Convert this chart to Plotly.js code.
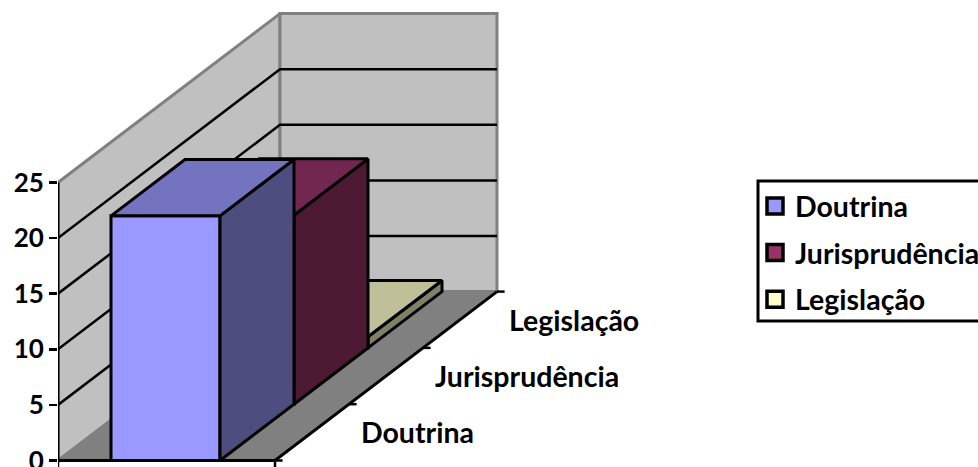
<!DOCTYPE html>
<html><head><meta charset="utf-8">
<script src="https://cdn.plot.ly/plotly-3.0.1.min.js"></script>
<style>html,body{margin:0;padding:0;background:#fff;overflow:hidden}</style>
</head><body><div id="chart" style="width:978px;height:467px"></div>
<script>
const categories = ['Doutrina','Jurisprudência','Legislação'];
const seriesNames = ['Doutrina','Jurisprudência','Legislação'];
const seriesValues = [22,17,1];
const yTicks = [0,5,10,15,20,25];
const frontColors = ['#9999FF','#993366','#FFFFCC'];
const sideColors = ['#4D4D80','#4D1933','#808066'];
const topColors = ['#7373BF','#732650','#BFBF99'];

// oblique projection of (width position, depth in categories, value) to axis units
const W = 217, DX = 74, DY = 56.3/11.12, YMAX = 25;
const P = (u,d,v) => [u*W + d*DX, v + d*DY];
function poly(pts, fill, lineColor, lw){
  const c = pts.map(p=>P(p[0],p[1],p[2]));
  if (fill) c.push(c[0]);
  return {type:'scatter', x:c.map(p=>p[0]), y:c.map(p=>p[1]), mode:'lines',
    fill: fill?'toself':'none', fillcolor: fill||undefined,
    line:{color:lineColor,width:lw}, showlegend:false, hoverinfo:'skip', cliponaxis:false};
}
const traces = [];
// walls & floor
traces.push(poly([[0,0,0],[0,3,0],[0,3,YMAX],[0,0,YMAX]],'#C0C0C0','#808080',3));
traces.push(poly([[0,3,0],[1,3,0],[1,3,YMAX],[0,3,YMAX]],'#C0C0C0','#808080',3));
traces.push(poly([[0,0,0],[1,0,0],[1,3,0],[0,3,0]],'#808080','#808080',1));
// gridlines
yTicks.slice(1,-1).forEach(t=>traces.push(poly([[0,0,t],[0,3,t],[1,3,t]],null,'#000',2.5)));
// axis edges and tick marks
traces.push(poly([[0,0,0],[0,0,YMAX]],null,'#000',3));
traces.push(poly([[0,0,0],[1,0,0],[1,3,0]],null,'#000',3));
[0,1].forEach(u=>traces.push(poly([[u,0,0],[u,0,-0.6]],null,'#000',2.5)));
[0,1,2,3].forEach(d=>traces.push(poly([[1,d,0],[1.035,d,0]],null,'#000',2.5)));
// bars, back to front
const uA = 53/W, uB = 162/W;
[2,1,0].forEach(i=>{
  const v = seriesValues[i];
  traces.push(poly([[uA,i,0],[uB,i,0],[uB,i,v],[uA,i,v]],frontColors[i],'#000',3));
  traces.push(poly([[uB,i,0],[uB,i+1,0],[uB,i+1,v],[uB,i,v]],sideColors[i],'#000',3));
  traces.push(poly([[uA,i,v],[uB,i,v],[uB,i+1,v],[uA,i+1,v]],topColors[i],'#000',3));
});
// category labels on the depth axis
const lab = categories.map((c,i)=>P(1,i+0.5,0));
traces.push({type:'scatter',mode:'text',x:lab.map(p=>p[0]+49),y:lab.map(p=>p[1]-0.36),text:categories,
  textposition:'middle right',textfont:{family:'Lato',size:28.5,color:'#000',weight:700},
  showlegend:false,hoverinfo:'skip',cliponaxis:false});
// legend entries
seriesNames.forEach((n,i)=>traces.push({type:'scatter',mode:'markers',x:[null],y:[null],name:n,legendgroup:n,
  marker:{symbol:'square',size:16,color:frontColors[i],line:{color:'#000',width:3.5}}}));

const layout = {
  width:978,height:467,paper_bgcolor:'#fff',plot_bgcolor:'rgba(0,0,0,0)',
  margin:{l:58,r:0,t:0,b:0,pad:0,autoexpand:false},
  xaxis:{visible:false,range:[0,920],fixedrange:true},
  yaxis:{range:[-0.585,41.41],tickvals:yTicks,ticktext:yTicks.map(String),showgrid:false,zeroline:false,showline:false,
    ticks:'outside',ticklen:8,tickwidth:2.5,tickcolor:'#000',ticklabeloverflow:'allow',
    tickfont:{family:'Lato',size:26,color:'#000',weight:700},fixedrange:true},
  shapes:[{type:'rect',layer:'below',xref:'x',yref:'paper',x0:700,x1:960,y0:146/467,y1:286/467,
    fillcolor:'#fff',line:{color:'#000',width:3}}],
  legend:{x:697/920,xanchor:'left',y:286/467,yanchor:'top',bgcolor:'rgba(0,0,0,0)',borderwidth:0,
    font:{family:'Lato',size:28.5,color:'#000',weight:700},traceorder:'grouped',tracegroupgap:6.5,itemwidth:30},
  showlegend:true
};
Plotly.newPlot('chart',traces,layout,{displayModeBar:false,staticPlot:true});
</script></body></html>
